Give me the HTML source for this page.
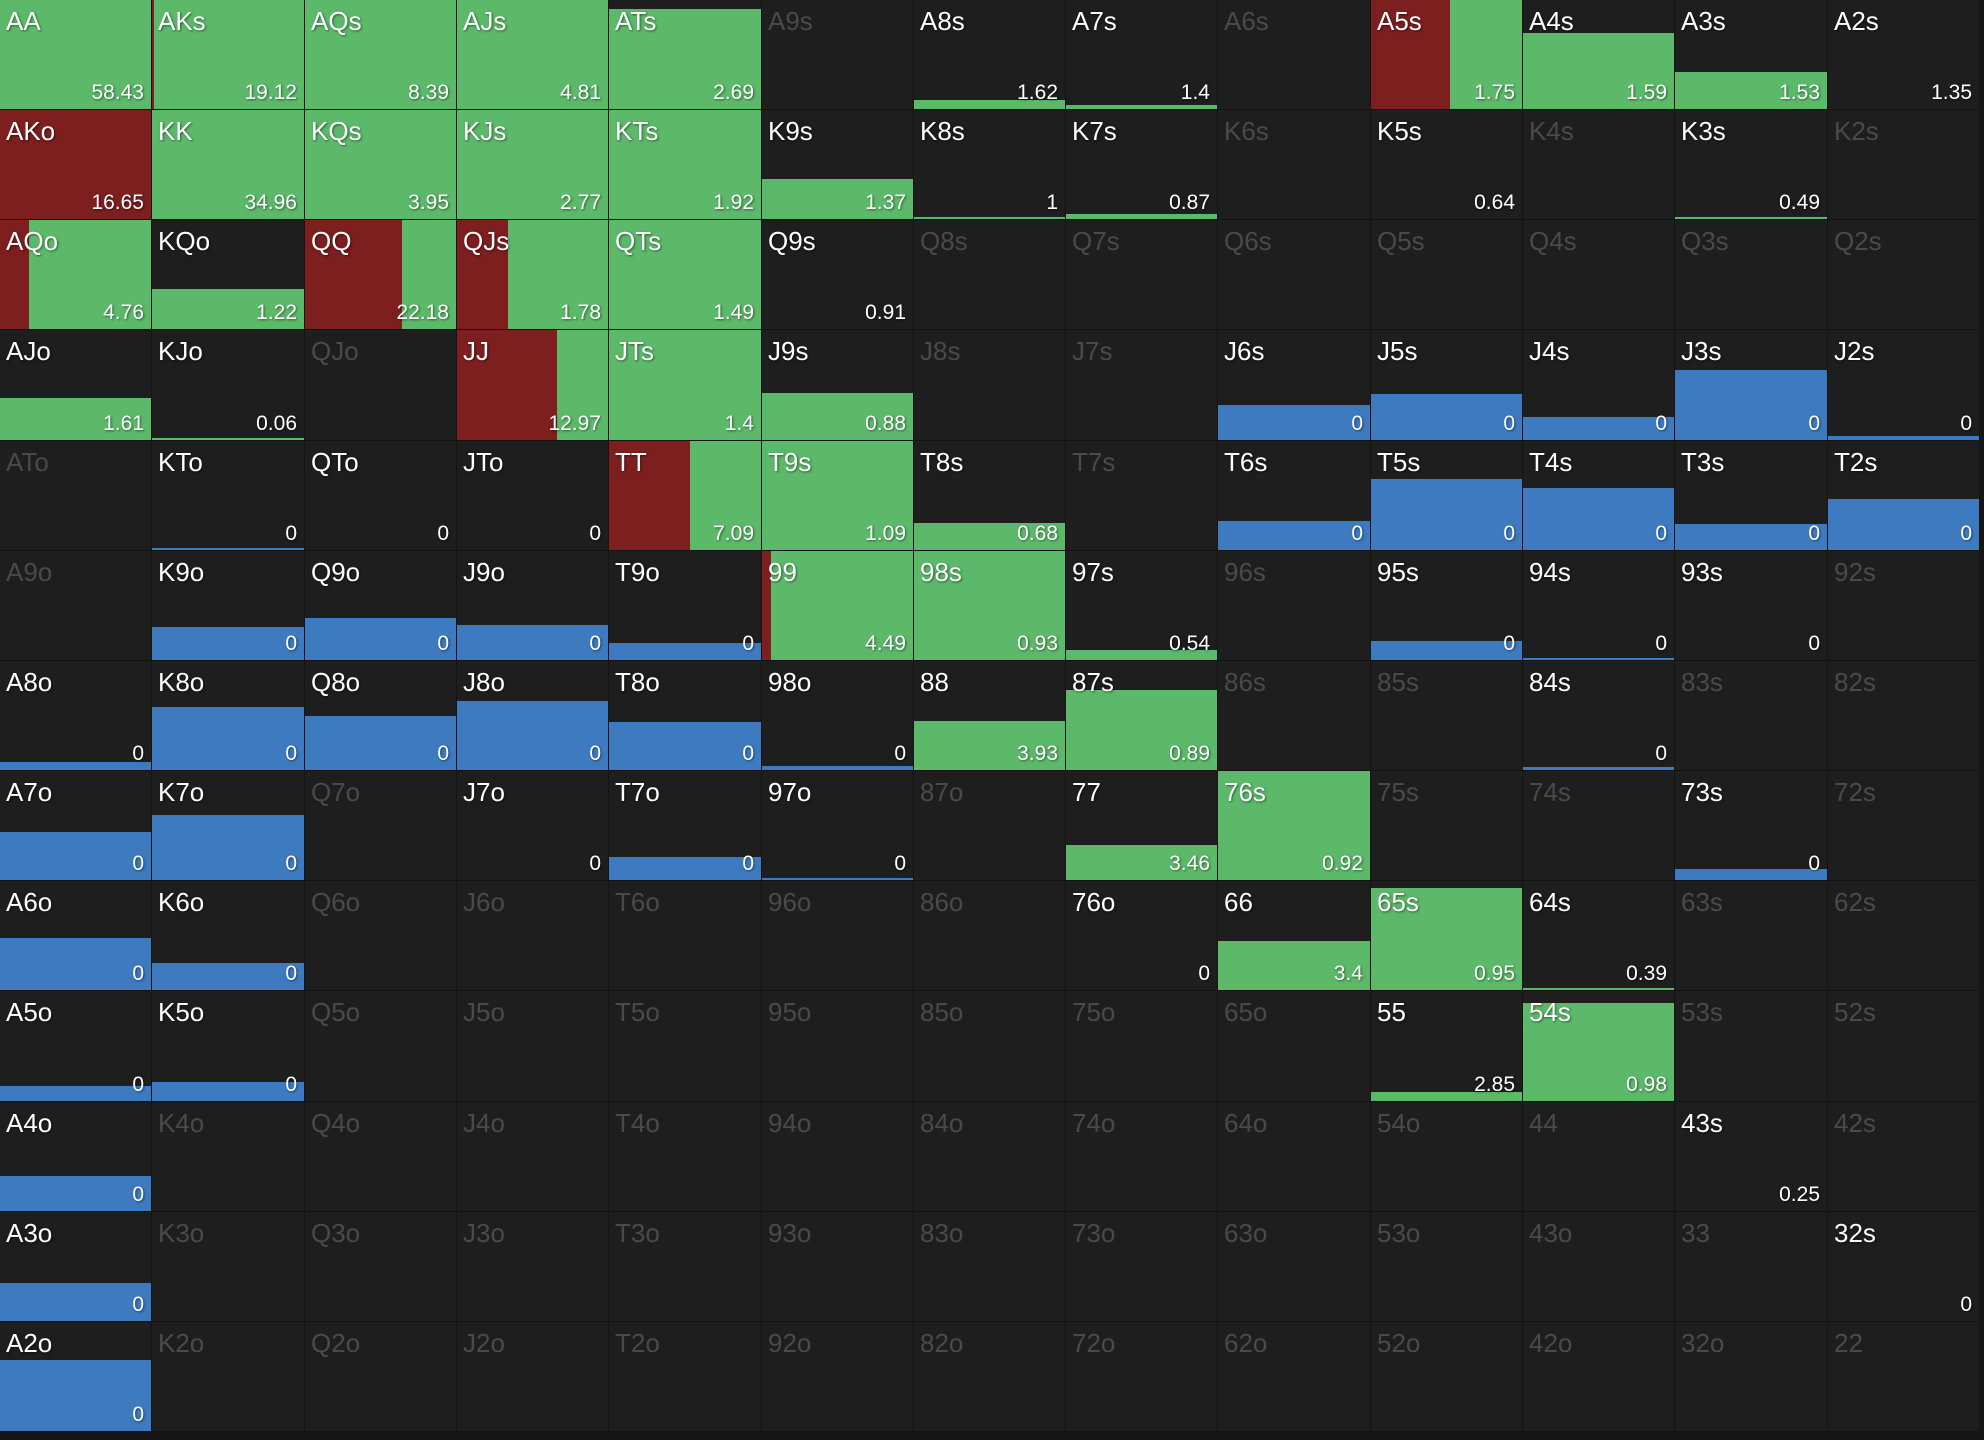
<!DOCTYPE html>
<html><head><meta charset="utf-8"><style>
html,body{margin:0;padding:0;background:#161616;}
#grid{position:absolute;left:0;top:0;width:1980px;height:1432px;background:#1e1e1e;border-radius:0 0 8px 0;overflow:hidden;font-family:"Liberation Sans",sans-serif;}
.cell{position:absolute;box-sizing:border-box;border-right:1px solid #141414;border-bottom:1px solid #141414;overflow:hidden;background:#1e1e1e;}
.bar{position:absolute;}
.lab{position:absolute;left:6px;top:6px;font-size:26px;color:#fff;text-shadow:1px 1px 2px rgba(0,0,0,.5);}
.lab.off{color:#4a4a4a;text-shadow:none;}
.val{position:absolute;right:7px;bottom:4px;font-size:21px;color:#fff;text-shadow:1px 1px 2px rgba(0,0,0,.5);}
</style></head><body>
<div id="grid"></div>
<script>
const ranks = ["A","K","Q","J","T","9","8","7","6","5","4","3","2"];
const values = {
AA:58.43,AKs:19.12,AQs:8.39,AJs:4.81,ATs:2.69,A8s:1.62,A7s:1.4,A5s:1.75,A4s:1.59,A3s:1.53,A2s:1.35,
AKo:16.65,KK:34.96,KQs:3.95,KJs:2.77,KTs:1.92,K9s:1.37,K8s:1,K7s:0.87,K5s:0.64,K3s:0.49,
AQo:4.76,KQo:1.22,QQ:22.18,QJs:1.78,QTs:1.49,Q9s:0.91,
AJo:1.61,KJo:0.06,JJ:12.97,JTs:1.4,J9s:0.88,J6s:0,J5s:0,J4s:0,J3s:0,J2s:0,
KTo:0,QTo:0,JTo:0,TT:7.09,T9s:1.09,T8s:0.68,T6s:0,T5s:0,T4s:0,T3s:0,T2s:0,
K9o:0,Q9o:0,J9o:0,T9o:0,"99":4.49,"98s":0.93,"97s":0.54,"95s":0,"94s":0,"93s":0,
A8o:0,K8o:0,Q8o:0,J8o:0,T8o:0,"98o":0,"88":3.93,"87s":0.89,"84s":0,
A7o:0,K7o:0,J7o:0,T7o:0,"97o":0,"77":3.46,"76s":0.92,"73s":0,
A6o:0,K6o:0,"76o":0,"66":3.4,"65s":0.95,"64s":0.39,
A5o:0,K5o:0,"55":2.85,"54s":0.98,
A4o:0,"43s":0.25,
A3o:0,"32s":0,
A2o:0
};
const greenFrac = {
AA:1,AKs:1,AQs:1,AJs:1,ATs:0.92,A8s:0.08,A7s:0.04,A5s:1,A4s:0.7,A3s:0.34,
KK:1,KQs:1,KJs:1,KTs:1,K9s:0.37,K8s:0.015,K7s:0.05,K3s:0.015,
AQo:1,KQo:0.37,QQ:1,QJs:1,QTs:1,
AJo:0.38,KJo:0.02,JJ:1,JTs:1,J9s:0.43,
TT:1,T9s:1,T8s:0.25,
"99":1,"98s":1,"97s":0.09,
"88":0.45,"87s":0.73,
"77":0.32,"76s":1,
"66":0.45,"65s":0.94,"64s":0.015,
"55":0.08,"54s":0.89
};
const redFrac = {AKs:0.01,A5s:0.52,AKo:1,AQo:0.19,QQ:0.64,QJs:0.34,JJ:0.66,TT:0.53,"99":0.06};
const blueFrac = {
J6s:0.32,J5s:0.42,J4s:0.21,J3s:0.64,J2s:0.04,
KTo:0.02,T6s:0.27,T5s:0.65,T4s:0.57,T3s:0.24,T2s:0.47,
K9o:0.3,Q9o:0.39,J9o:0.32,T9o:0.16,"95s":0.17,"94s":0.02,
A8o:0.07,K8o:0.58,Q8o:0.5,J8o:0.63,T8o:0.44,"98o":0.04,"84s":0.03,
A7o:0.44,K7o:0.6,T7o:0.21,"97o":0.02,"73s":0.1,
A6o:0.48,K6o:0.25,
A5o:0.14,K5o:0.17,
A4o:0.32,
A3o:0.35,
A2o:0.65
};
const grid = document.getElementById('grid');
const CW = 1980/13, CH = 1432/13;
function hand(r,c){
  if(r===c) return ranks[r]+ranks[c];
  if(c>r) return ranks[r]+ranks[c]+"s";
  return ranks[c]+ranks[r]+"o";
}
for(let r=0;r<13;r++){
  for(let c=0;c<13;c++){
    const h = hand(r,c);
    const cell = document.createElement('div');
    cell.className='cell';
    
    
    const x0=Math.round(c*CW), x1=Math.round((c+1)*CW), y0=Math.round(r*CH), y1=Math.round((r+1)*CH);
    cell.style.left=x0+'px'; cell.style.top=y0+'px';
    cell.style.width=(x1-x0)+'px'; cell.style.height=(y1-y0)+'px';
    const w=x1-x0-1, ht=y1-y0-1;
    const rf = redFrac[h]||0;
    if(rf>0){
      const b=document.createElement('div'); b.className='bar';
      
      
      b.style.cssText='left:0;top:0;height:100%;background:#7d1e1f;width:'+(rf*w)+'px';
      cell.appendChild(b);
    }
    const gf = greenFrac[h]||0;
    if(gf>0){
      const b=document.createElement('div'); b.className='bar';
      
      
      b.style.cssText='bottom:0;background:#5cb96a;left:'+(rf*w)+'px;width:'+((1-rf)*w)+'px;height:'+Math.max(2,gf*ht)+'px';
      cell.appendChild(b);
    }
    const bf = blueFrac[h]||0;
    if(bf>0){
      const b=document.createElement('div'); b.className='bar';
      
      
      b.style.cssText='bottom:0;left:0;background:#3d7abf;width:'+w+'px;height:'+Math.max(2,bf*ht)+'px';
      cell.appendChild(b);
    }
    const active = (h in values);
    const lab=document.createElement('div');
    lab.className='lab'+(active?'':' off');
    
    
    lab.textContent=h;
    cell.appendChild(lab);
    if(active){
      const v=document.createElement('div'); v.className='val';
      
      
      v.textContent=String(values[h]);
      cell.appendChild(v);
    }
    grid.appendChild(cell);
  }
}
</script>
</body></html>
